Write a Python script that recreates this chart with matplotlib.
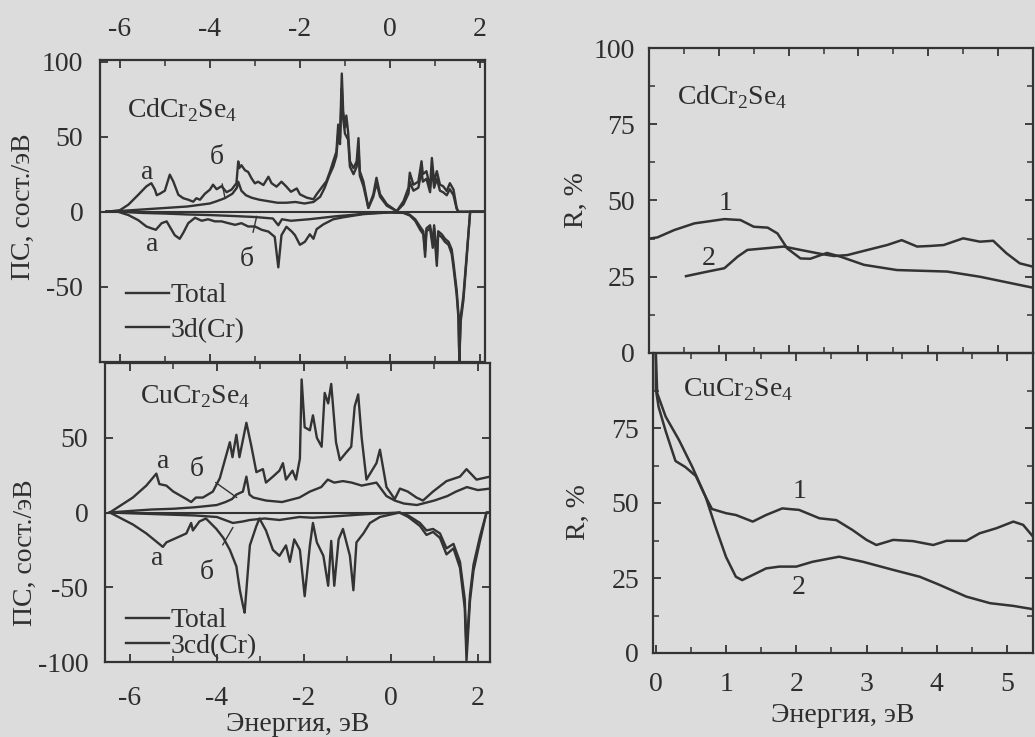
import matplotlib
matplotlib.use("Agg")
import matplotlib.pyplot as plt

plt.rcParams["font.family"] = ["Liberation Serif", "DejaVu Serif"]
plt.rcParams["mathtext.fontset"] = "custom"
plt.rcParams["mathtext.rm"] = "Liberation Serif"
plt.rcParams["axes.unicode_minus"] = False
plt.rcParams["font.size"] = 20

# ---- CdCr2Se4 density of states (left, top) ----
cd_tot_up_x = [-6.3, -6.0, -5.81, -5.59, -5.41, -5.3, -5.22, -5.18, -5.11, -5.0, -4.89, -4.81, -4.7, -4.59,
               -4.48, -4.37, -4.3, -4.22, -4.11, -4.0, -3.93, -3.85, -3.74, -3.63, -3.52, -3.41, -3.37, -3.35,
               -3.3, -3.22, -3.15, -3.07, -3.0, -2.93, -2.81, -2.7, -2.63, -2.52, -2.41, -2.3, -2.2, -2.07,
               -2.0, -1.85, -1.7, -1.63, -1.52, -1.41, -1.33, -1.26, -1.19, -1.15, -1.11, -1.07, -1.04, -1.0,
               -0.97, -0.93, -0.89, -0.81, -0.74, -0.7, -0.67, -0.59, -0.48, -0.37, -0.3, -0.22, -0.07, 0.15,
               0.3, 0.41, 0.44, 0.52, 0.63, 0.7, 0.73, 0.81, 0.89, 0.93, 0.98, 1.04, 1.11, 1.18, 1.26, 1.33,
               1.41, 1.48, 1.52, 1.8, 2.1]
cd_tot_up_y = [0, 1, 4.7, 11.3, 16.9, 19, 14.7, 11, 12, 14, 24.7, 20, 11.3, 9,
               8, 6.7, 9, 8, 12, 14.7, 18, 15, 17, 13, 14.7, 19, 33.5, 29,
               31, 27.6, 26.5, 22, 18.9, 20, 17.8, 23.3, 19, 16.7, 20, 16.7, 13.3, 15.5,
               11.6, 9.4, 8.3, 11.6, 16, 20.4, 27, 33.6, 40, 58, 49, 92, 67, 56,
               64, 53, 33.6, 29, 33.6, 49, 27, 20, 2.6, 11.6, 22.6, 11.6, 5, 0.4,
               7, 16, 26, 18, 20, 33.6, 25, 27, 16, 35.8, 20, 27, 18, 17, 13.8, 19,
               14.8, 2.6, 0, 0, 0]

cd_d_up_x = [-6.3, -6.0, -5.5, -5.0, -4.5, -4.0, -3.85, -3.67, -3.5, -3.4, -3.37, -3.3, -3.2, -3.07, -2.9,
             -2.7, -2.5, -2.3, -2.1, -1.9, -1.7, -1.55, -1.45, -1.35, -1.26, -1.19, -1.15, -1.11, -1.07,
             -1.04, -1.0, -0.93, -0.89, -0.81, -0.74, -0.7, -0.67, -0.59, -0.48, -0.37, -0.3, -0.22, -0.07,
             0.15, 0.3, 0.41, 0.44, 0.52, 0.63, 0.7, 0.73, 0.81, 0.89, 0.93, 0.98, 1.04, 1.11, 1.18, 1.26,
             1.33, 1.41, 1.48, 1.52, 1.8, 2.1]
cd_d_up_y = [0, 0.5, 1.5, 2.5, 3.5, 5.5, 7, 9, 12, 16, 20, 14, 11, 9.3, 8,
             7, 6, 6, 6.5, 5.5, 6.5, 10, 16, 24, 30, 37, 52, 45, 82,
             62, 52, 48, 30, 25, 30, 42, 24, 17, 2.5, 10, 19, 10, 4,
             0.4, 5, 12, 20, 14, 16, 27, 20, 22, 13, 29, 16, 22, 14, 13, 11,
             15, 11, 2, 0, 0, 0]

cd_tot_dn_x = [-6.3, -6.04, -5.81, -5.59, -5.41, -5.3, -5.2, -5.07, -4.96, -4.89, -4.78, -4.67, -4.59, -4.48,
               -4.33, -4.18, -4.04, -3.89, -3.74, -3.59, -3.44, -3.3, -3.15, -3.0, -2.85, -2.7, -2.56, -2.48,
               -2.41, -2.3, -2.18, -2.11, -2.0, -1.89, -1.78, -1.7, -1.63, -1.48, -1.26, -1.04, -0.81, -0.59,
               -0.3, 0.0, 0.3, 0.44, 0.56, 0.67, 0.74, 0.78, 0.81, 0.89, 0.95, 0.98, 1.04, 1.07, 1.15, 1.22,
               1.3, 1.37, 1.41, 1.48, 1.52, 1.54, 1.57, 1.63, 1.7, 1.78, 2.1]
cd_tot_dn_y = [0, 0, -2.2, -5.6, -9.8, -11, -12, -7.6, -6.4, -10, -15.6, -18, -14, -7.6,
               -4, -6, -5, -6.4, -6.4, -7.6, -8.7, -7.6, -9.8, -9.8, -12, -13.2, -16.7, -37,
               -15.6, -10, -13.2, -15.6, -22, -20, -15, -18, -11.6, -8.4, -5, -3.7, -2.6, -1.6,
               -1, -0.5, -0.8, -2.5, -6, -12, -15, -30, -13, -11, -24, -11, -36, -15, -17, -20,
               -22, -28, -37, -55, -70.6, -99.5, -73, -59, -32, 0, 0]

cd_d_dn_x = [-6.3, -6.0, -5.5, -5.0, -4.5, -4.0, -3.5, -3.0, -2.6, -2.48, -2.4, -2.2, -2.0, -1.8, -1.5,
             -1.2, -1.0, -0.8, -0.5, 0.0, 0.3, 0.44, 0.56, 0.67, 0.74, 0.78, 0.81, 0.89, 0.95, 0.98, 1.04,
             1.07, 1.15, 1.22, 1.3, 1.37, 1.41, 1.48, 1.52, 1.54, 1.57, 1.63, 1.7, 1.78, 2.1]
cd_d_dn_y = [0, 0, -0.8, -1.2, -1.8, -2.2, -2.8, -3.5, -4.5, -9, -5, -6, -5.5, -5, -4,
             -3, -2.5, -2, -1, -0.4, -0.6, -2, -5, -10, -13, -26, -11, -9, -21, -9, -32,
             -13, -15, -18, -20, -25, -34, -52, -68, -97, -70, -56, -30, 0, 0]

# ---- CuCr2Se4 density of states (left, bottom) ----
cu_tot_up_x = [-6.46, -5.93, -5.62, -5.39, -5.32, -5.16, -5.0, -4.7, -4.59, -4.48, -4.32, -4.09, -3.93, -3.7,
               -3.64, -3.55, -3.48, -3.32, -3.21, -3.09, -2.94, -2.87, -2.71, -2.56, -2.48, -2.41, -2.26,
               -2.18, -2.09, -2.05, -1.98, -1.86, -1.79, -1.7, -1.59, -1.52, -1.44, -1.37, -1.26, -1.17,
               -1.03, -0.91, -0.83, -0.75, -0.67, -0.56, -0.33, -0.25, -0.1, 0.09, 0.21, 0.39, 0.59, 0.74,
               0.97, 1.28, 1.59, 1.74, 1.97, 2.28]
cu_tot_up_y = [0, 10, 18, 26, 19, 18, 14, 9, 7, 10, 10, 14, 23, 47,
               37, 52, 37, 60, 45, 27, 29, 20, 24, 28, 33, 22, 28,
               22, 36, 89, 57, 55, 65, 50, 44, 80, 73, 86, 47, 35,
               40, 44, 71, 79, 50, 22, 33, 42, 17, 9, 16, 14, 10, 8,
               14, 21, 24, 29, 22, 24]

cu_d_up_x = [-6.46, -6.0, -5.5, -5.0, -4.5, -4.0, -3.8, -3.65, -3.55, -3.4, -3.32, -3.25, -3.16, -2.87, -2.5,
             -2.1, -1.86, -1.6, -1.45, -1.3, -1.1, -0.9, -0.67, -0.5, -0.33, -0.1, 0.09, 0.3, 0.6, 1.0, 1.3,
             1.5, 1.75, 2.0, 2.28]
cu_d_up_y = [0, 1, 2, 2.5, 3.5, 5, 7, 9, 12, 14, 24, 12, 10, 8, 7,
             10, 14, 17, 22, 20, 21, 20, 18, 19, 20, 11, 8, 6, 5, 8, 11,
             14, 17, 15, 16]

cu_tot_dn_x = [-6.46, -5.93, -5.62, -5.24, -5.16, -4.93, -4.7, -4.59, -4.55, -4.4, -4.25, -4.01, -3.85, -3.7,
               -3.55, -3.47, -3.4, -3.36, -3.32, -3.24, -3.09, -3.02, -2.87, -2.71, -2.56, -2.41, -2.32,
               -2.22, -2.09, -1.98, -1.86, -1.79, -1.7, -1.55, -1.44, -1.37, -1.3, -1.2, -1.1, -0.94, -0.86,
               -0.79, -0.63, -0.48, -0.25, 0.05, 0.2, 0.4, 0.67, 0.82, 0.97, 1.13, 1.28, 1.44, 1.59, 1.7,
               1.74, 1.82, 1.9, 2.05, 2.2, 2.28]
cu_tot_dn_y = [0, -8, -14, -23, -20, -17, -14, -7, -12, -6, -4, -11, -17, -25,
               -36, -52, -62, -67, -52, -22, -9, -4, -12, -25, -29, -22, -33,
               -18, -25, -56, -22, -7, -20, -29, -49, -19, -49, -18, -11, -29, -52,
               -20, -14, -7, -3, -1, 0, -3, -9, -15, -13, -17, -28, -24, -37, -64,
               -99, -59, -39, -19, 0, 0]

cu_d_dn_x = [-6.46, -6.0, -5.5, -5.0, -4.5, -4.0, -3.63, -3.4, -3.24, -2.9, -2.56, -2.1, -1.8, -1.5, -1.0,
             -0.5, 0.0, 0.2, 0.4, 0.67, 0.82, 0.97, 1.13, 1.28, 1.44, 1.59, 1.7, 1.74, 1.82, 1.9, 2.05,
             2.2, 2.28]
cu_d_dn_y = [0, -0.5, -1, -1.5, -2, -3, -7, -6, -5, -4, -5, -3, -3.5, -3, -2,
             -1, -0.3, 0, -2, -7, -12, -11, -14, -24, -21, -33, -58, -92, -55, -35, -16,
             0, 0]

# ---- reflectance R, % (right) ----
cd_r1_x = [0.0, 0.12, 0.36, 0.65, 1.08, 1.31, 1.5, 1.7, 1.84, 1.98, 2.17, 2.31, 2.46, 2.55, 2.74, 3.08,
           3.55, 4.27, 4.74, 5.5]
cd_r1_y = [37.5, 37.9, 40.3, 42.5, 43.9, 43.6, 41.4, 41.1, 39.2, 34.3, 31.0, 30.9, 32.1, 32.8, 31.6, 28.9,
           27.2, 26.7, 25.0, 21.4]
cd_r2_x = [0.53, 0.84, 1.08, 1.27, 1.41, 1.7, 1.93, 2.17, 2.46, 2.65, 2.84, 3.08, 3.41, 3.62, 3.84, 4.03,
           4.22, 4.5, 4.74, 4.93, 5.12, 5.31, 5.5]
cd_r2_y = [25.2, 26.7, 27.8, 31.6, 33.8, 34.4, 34.9, 33.8, 32.5, 31.8, 32.1, 33.5, 35.4, 37.0, 34.9, 35.1,
           35.4, 37.6, 36.5, 36.8, 32.7, 29.4, 28.3]

cu_r1_x = [0.0, 0.0, 0.04, 0.14, 0.28, 0.42, 0.57, 0.71, 0.8, 1.0, 1.14, 1.38, 1.57, 1.8, 2.04, 2.33, 2.57,
           2.8, 3.0, 3.14, 3.38, 3.66, 3.95, 4.14, 4.42, 4.61, 4.85, 5.09, 5.23, 5.37]
cu_r1_y = [100, 88, 82, 74, 64, 62, 59, 52, 48, 46.6, 46, 43.8, 46, 48.2, 47.7, 44.9, 44.3,
           41, 37.7, 36, 37.7, 37.3, 36, 37.4, 37.4, 39.9, 41.6, 43.8, 42.7, 38.8]
cu_r2_x = [0.0, 0.02, 0.14, 0.33, 0.52, 0.71, 0.85, 1.0, 1.14, 1.23, 1.38, 1.57, 1.76, 2.0, 2.23, 2.61,
           2.95, 3.38, 3.76, 4.04, 4.42, 4.76, 5.09, 5.37]
cu_r2_y = [100, 86.6, 78.8, 71, 62, 52, 42, 32, 25.4, 24.3, 26, 28.2, 28.8, 28.8, 30.4, 32.1,
           30.4, 27.7, 25.4, 22.7, 18.8, 16.6, 15.7, 14.6]

BG = "#dcdcdc"
LC = "#333333"
TC = "#2e2e2e"
FS = 20
W, H = 1035, 737

fig = plt.figure(figsize=(W / 100, H / 100), dpi=100, facecolor=BG)


def box(l, r, t, b):
    return [l / W, 1 - b / H, (r - l) / W, (b - t) / H]


def fpos(x, y):
    return x / W, 1 - y / H


def style(ax):
    ax.set_facecolor("none")
    for s in ax.spines.values():
        s.set_color(LC)
        s.set_linewidth(1.6)
    ax.tick_params(which="both", direction="in", colors=LC, labelcolor=TC, labelsize=FS,
                   top=True, bottom=True, left=True, right=True)
    ax.tick_params(which="major", length=6, width=1.3)
    ax.tick_params(which="minor", length=4, width=1.1)


ax1 = fig.add_axes(box(100, 485, 60, 362))
ax2 = fig.add_axes(box(105, 490, 363, 662))
ax3 = fig.add_axes(box(649, 1033, 48, 353))
ax4 = fig.add_axes(box(653, 1033, 353, 653))
for ax in (ax1, ax2, ax3, ax4):
    style(ax)

leg_kw = dict(loc="upper left", bbox_transform=fig.transFigure, frameon=False, handlelength=1.55,
              handletextpad=0.05, borderpad=0, borderaxespad=0, fontsize=FS, labelcolor=TC)

# left top panel
ax1.plot(cd_tot_up_x, cd_tot_up_y, color=LC, lw=1.7, label="Total")
ax1.plot(cd_d_up_x, cd_d_up_y, color=LC, lw=1.7, label="3d(Cr)")
ax1.plot(cd_tot_dn_x, cd_tot_dn_y, color=LC, lw=1.7)
ax1.plot(cd_d_dn_x, cd_d_dn_y, color=LC, lw=1.7)
ax1.axhline(0, color=LC, lw=1.5)
ax1.set_xlim(-6.44, 2.11)
ax1.set_ylim(-100, 101)
ax1.set_xticks([-6, -4, -2, 0, 2])
ax1.set_xticks([-5, -3, -1, 1], minor=True)
ax1.set_yticks([-100, -50, 0, 50, 100], labels=["", "-50", "0", "50", "100"])
ax1.tick_params(axis="x", labeltop=True, labelbottom=False, pad=13)
ax1.tick_params(axis="y", pad=12)
ax1.legend(bbox_to_anchor=fpos(126, 283), labelspacing=0.32, **leg_kw)
ax1.text(-5.4, 26, "а", fontsize=FS, color=TC, ha="center", va="center")
ax1.text(-5.29, -22, "а", fontsize=FS, color=TC, ha="center", va="center")
ax1.annotate("б", xy=(-3.67, 10), xytext=(-3.84, 36), fontsize=FS, color=TC, ha="center", va="center",
             arrowprops=dict(arrowstyle="-", color=LC, lw=1.0, shrinkA=8, shrinkB=0))
ax1.annotate("б", xy=(-2.96, -3), xytext=(-3.18, -32), fontsize=FS, color=TC, ha="center", va="center",
             arrowprops=dict(arrowstyle="-", color=LC, lw=1.0, shrinkA=9, shrinkB=0))

# left bottom panel
ax2.plot(cu_tot_up_x, cu_tot_up_y, color=LC, lw=1.7, label="Total")
ax2.plot(cu_d_up_x, cu_d_up_y, color=LC, lw=1.7, label="3cd(Cr)")
ax2.plot(cu_tot_dn_x, cu_tot_dn_y, color=LC, lw=1.7)
ax2.plot(cu_d_dn_x, cu_d_dn_y, color=LC, lw=1.7)
ax2.axhline(0, color=LC, lw=1.5)
ax2.set_xlim(-6.57, 2.28)
ax2.set_ylim(-100, 100)
ax2.set_xticks([-6, -4, -2, 0, 2])
ax2.set_xticks([-5, -3, -1, 1], minor=True)
ax2.set_yticks([-100, -50, 0, 50, 100], labels=["-100", "-50", "0", "50", ""])
ax2.tick_params(axis="x", pad=17)
ax2.tick_params(axis="y", pad=12)
ax2.set_xlabel("Энергия, эВ", fontsize=FS, color=TC, labelpad=1)
ax2.legend(bbox_to_anchor=fpos(126, 608), labelspacing=0.0, **leg_kw)
ax2.text(-5.24, 34, "а", fontsize=FS, color=TC, ha="center", va="center")
ax2.text(-5.38, -31, "а", fontsize=FS, color=TC, ha="center", va="center")
ax2.annotate("б", xy=(-3.54, 10), xytext=(-4.46, 29), fontsize=FS, color=TC, ha="center", va="center",
             arrowprops=dict(arrowstyle="-", color=LC, lw=1.0, shrinkA=8, shrinkB=0))
ax2.annotate("б", xy=(-3.63, -10), xytext=(-4.23, -40), fontsize=FS, color=TC, ha="center", va="center",
             arrowprops=dict(arrowstyle="-", color=LC, lw=1.0, shrinkA=10, shrinkB=0))

fig.text(*fpos(127, 110), r"CdCr$_\mathrm{2}$Se$_\mathrm{4}$", fontsize=FS, color=TC, va="center")
fig.text(*fpos(140, 397), r"CuCr$_\mathrm{2}$Se$_\mathrm{4}$", fontsize=FS, color=TC, va="center")
fig.text(*fpos(23, 207), "ПС, сост./эВ", fontsize=FS, color=TC, rotation=90, ha="center", va="center")
fig.text(*fpos(25, 553), "ПС, сост./эВ", fontsize=FS, color=TC, rotation=90, ha="center", va="center")

# right top panel
ax3.plot(cd_r1_x, cd_r1_y, color=LC, lw=1.8)
ax3.plot(cd_r2_x, cd_r2_y, color=LC, lw=1.8)
ax3.set_xlim(0, 5.5)
ax3.set_ylim(0, 100)
ax3.set_xticks([0, 1, 2, 3, 4, 5], labels=[])
ax3.set_xticks([0.5, 1.5, 2.5, 3.5, 4.5], minor=True)
ax3.set_yticks([0, 25, 50, 75, 100])
ax3.set_yticks([12.5, 37.5, 62.5, 87.5], minor=True)
ax3.tick_params(axis="y", pad=10)
ax3.text(1.1, 49, "1", fontsize=FS, color=TC, ha="center", va="center")
ax3.text(0.86, 31, "2", fontsize=FS, color=TC, ha="center", va="center")

# right bottom panel
ax4.plot(cu_r1_x, cu_r1_y, color=LC, lw=1.8)
ax4.plot(cu_r2_x, cu_r2_y, color=LC, lw=1.8)
ax4.set_xlim(-0.04, 5.37)
ax4.set_ylim(0, 100)
ax4.set_xticks([0, 1, 2, 3, 4, 5])
ax4.set_xticks([0.5, 1.5, 2.5, 3.5, 4.5], minor=True)
ax4.set_yticks([0, 25, 50, 75, 100], labels=["0", "25", "50", "75", ""])
ax4.set_yticks([12.5, 37.5, 62.5, 87.5], minor=True)
ax4.tick_params(axis="x", pad=14)
ax4.tick_params(axis="y", pad=10)
ax4.set_xlabel("Энергия, эВ", fontsize=FS, color=TC, labelpad=4)
ax4.text(2.04, 54, "1", fontsize=FS, color=TC, ha="center", va="center")
ax4.text(2.04, 22, "2", fontsize=FS, color=TC, ha="center", va="center")

fig.text(*fpos(677, 97), r"CdCr$_\mathrm{2}$Se$_\mathrm{4}$", fontsize=FS, color=TC, va="center")
fig.text(*fpos(683, 390), r"CuCr$_\mathrm{2}$Se$_\mathrm{4}$", fontsize=FS, color=TC, va="center")
fig.text(*fpos(576, 200), "R, %", fontsize=FS, color=TC, rotation=90, ha="center", va="center")
fig.text(*fpos(578, 512), "R, %", fontsize=FS, color=TC, rotation=90, ha="center", va="center")

fig.savefig("out.png", dpi=100, facecolor=BG)
